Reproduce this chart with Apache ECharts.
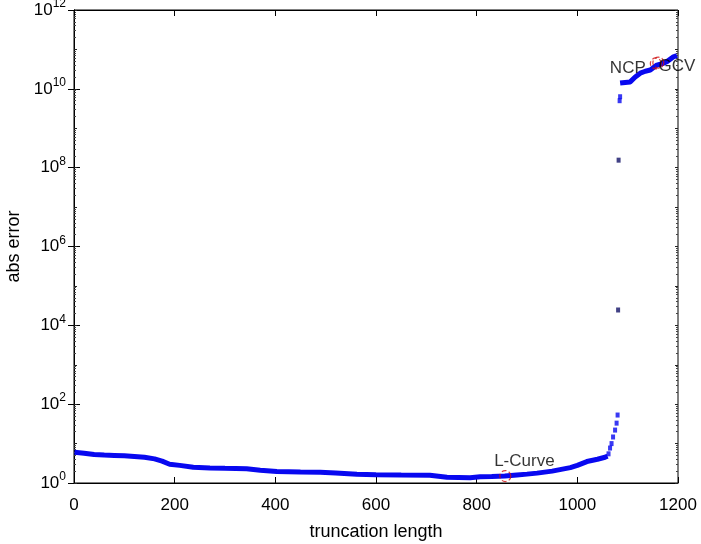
<!DOCTYPE html>
<html>
<head>
<meta charset="utf-8">
<script src="https://cdn.jsdelivr.net/npm/echarts@6/dist/echarts.min.js"></script>
<style>
  html, body { margin: 0; padding: 0; background: #fff; }
  #chart { width: 701px; height: 544px; }
</style>
</head>
<body>
<div id="chart"></div>
<script>
// main band (truncation length vs abs error)
const lowX = [1, 20, 40, 60, 80, 100, 120, 140, 160, 175, 190, 210, 237, 270, 300, 343, 370, 403, 450, 489, 520, 562, 600, 650, 707, 741, 787, 807, 830, 856, 880, 900, 920, 950, 986, 1000, 1019, 1040, 1055, 1060];
const lowY = [6.0, 5.7, 5.3, 5.1, 5.0, 4.9, 4.7, 4.5, 4.1, 3.6, 3.0, 2.8, 2.5, 2.4, 2.35, 2.3, 2.1, 1.95, 1.9, 1.87, 1.8, 1.66, 1.62, 1.6, 1.58, 1.4, 1.36, 1.44, 1.46, 1.5, 1.6, 1.68, 1.78, 2.0, 2.45, 2.8, 3.5, 4.0, 4.5, 4.8];
// steep part and isolated points
const jumpX = [1062, 1065, 1068, 1071, 1075, 1078, 1080, 1081, 1082, 1084, 1085];
const jumpY = [5.5, 7.7, 10, 14.7, 22, 33, 53, 2.45e4, 1.55e8, 5.0e9, 6.3e9];
// upper band
const highX = [1085, 1095, 1105, 1115, 1125, 1135, 1145, 1158, 1170, 1178, 1191, 1198];
const highY = [1.4e10, 1.45e10, 1.5e10, 2.0e10, 2.5e10, 2.8e10, 3.0e10, 4.0e10, 4.4e10, 4.9e10, 6.5e10, 7.0e10];
// selected truncation points
const markNames = ['L-Curve', 'NCP', 'GCV'];
const markX = [857, 1156, 1161];
const markY = [1.5, 4.4e10, 4.6e10];

const zip = (xs, ys) => xs.map((x, i) => [x, ys[i]]);

const chart = echarts.init(document.getElementById('chart'));
const font = 'Liberation Sans, Arial, sans-serif';

// helper log axis, only for the small ticks (2..9 x 10^k)
const minorAxis = (pos) => ({
  type: 'log', logBase: 10, min: 1, max: 1e12, interval: 1, position: pos,
  axisLine: { show: false },
  axisTick: { show: true, inside: true, length: 3, lineStyle: { color: '#222' } },
  minorTick: { show: true, splitNumber: 9, length: 2, lineStyle: { color: '#444' } },
  axisLabel: { show: false }, splitLine: { show: false }
});

const option = {
  animation: false,
  textStyle: { fontFamily: font },
  grid: { left: 74, right: 23, top: 10, bottom: 61, outerBoundsMode: 'none', show: true, borderColor: '#000', borderWidth: 1 },
  xAxis: [
    {
      type: 'value', min: 0, max: 1200, interval: 200,
      name: 'truncation length', nameLocation: 'middle', nameGap: 40,
      nameTextStyle: { color: '#000', fontSize: 18, fontFamily: font },
      axisLine: { lineStyle: { color: '#000' } },
      axisTick: { inside: true, length: 6, lineStyle: { color: '#000' } },
      axisLabel: { color: '#000', fontSize: 17, margin: 14, fontFamily: font, formatter: (v) => String(v) },
      splitLine: { show: false }
    },
    {
      type: 'value', min: 0, max: 1200, interval: 200, position: 'top',
      axisLine: { show: true, lineStyle: { color: '#000' } },
      axisTick: { inside: true, length: 6, lineStyle: { color: '#000' } },
      axisLabel: { show: false }, splitLine: { show: false }
    }
  ],
  yAxis: [
    {
      type: 'log', logBase: 10, min: 1, max: 1e12, interval: 2,
      name: 'abs error', nameLocation: 'middle', nameGap: 48, nameRotate: 90,
      nameTextStyle: { color: '#000', fontSize: 18, fontFamily: font },
      axisLine: { lineStyle: { color: '#000' } },
      axisTick: { inside: true, length: 6, lineStyle: { color: '#000' } },
      axisLabel: {
        margin: 8,
        formatter: function (v) {
          const e = Math.round(Math.log10(v));
          return '{b|10}{e|' + e + '}';
        },
        rich: {
          b: { fontSize: 17, color: '#000', fontFamily: font },
          e: { fontSize: 12, color: '#000', fontFamily: font, padding: [0, 0, 12, 0] }
        }
      },
      splitLine: { show: false }
    },
    {
      type: 'log', logBase: 10, min: 1, max: 1e12, interval: 2, position: 'right',
      axisLine: { show: true, lineStyle: { color: '#000' } },
      axisTick: { inside: true, length: 6, lineStyle: { color: '#000' } },
      axisLabel: { show: false }, splitLine: { show: false }
    },
    minorAxis('left'),
    minorAxis('right')
  ],
  series: [
    {
      type: 'line', data: zip(lowX, lowY), showSymbol: false,
      lineStyle: { color: '#0808f0', width: 5 }, z: 2
    },
    {
      type: 'line', data: zip(highX, highY), showSymbol: false,
      lineStyle: { color: '#0808f0', width: 5 }, z: 2
    },
    {
      type: 'scatter', data: zip(jumpX, jumpY), symbol: 'rect', symbolSize: [4, 5],
      itemStyle: { color: function (p) { return p.value[1] > 1e3 && p.value[1] < 1e9 ? '#111166' : '#0808f0'; } }, z: 3
    },
    {
      type: 'scatter',
      data: markX.map((x, i) => ({ name: markNames[i], value: [x, markY[i]] })),
      symbol: 'circle', symbolSize: 11,
      itemStyle: { color: 'rgba(0,0,0,0)', borderColor: '#d01010', borderWidth: 1.2, borderType: 'dashed' },
      label: {
        show: true, color: '#000', fontSize: 17, fontFamily: font,
        formatter: '{b}', position: 'top'
      },
      labelLayout: function (p) {
        if (p.dataIndex === 1) return { x: p.rect.x - 4, y: p.rect.y + p.rect.height / 2 + 5, align: 'right', verticalAlign: 'middle' };
        if (p.dataIndex === 2) return { x: p.rect.x + p.rect.width - 6, y: p.rect.y + p.rect.height / 2 + 4, align: 'left', verticalAlign: 'middle' };
        return { x: p.rect.x + p.rect.width / 2 + 19, y: p.rect.y - 9, align: 'center', verticalAlign: 'middle' };
      },
      z: 4
    }
  ]
};
chart.setOption(option);
</script>
</body>
</html>
